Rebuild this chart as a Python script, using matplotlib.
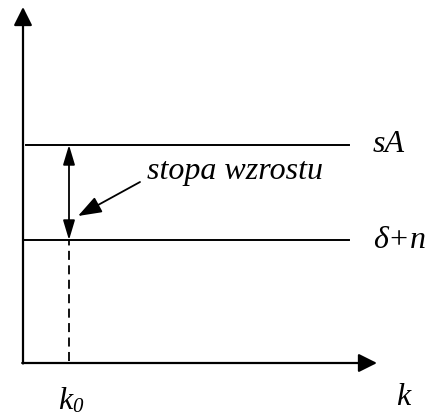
import matplotlib.pyplot as plt

# levels (distance from origin, in drawing units)
level_names = ['sA', r'$\delta$+n']
level_values = [218, 123]
level_starts = [3, 0]
k0 = 46
k_end = 354
y_end = 356
line_end = 326
note_text = 'stopa wzrostu'

plt.rcParams['font.family'] = ['Liberation Serif', 'DejaVu Serif']
plt.rcParams['mathtext.fontset'] = 'custom'
plt.rcParams['mathtext.it'] = 'Liberation Serif:italic'
plt.rcParams['mathtext.rm'] = 'Liberation Serif:italic'

fig = plt.figure(figsize=(4.31, 4.15), dpi=100)
ax = fig.add_axes([0, 0, 1, 1])
ax.set_xlim(-23, 408)
ax.set_ylim(-52, 363)
ax.axis('off')

axis_arrow = dict(arrowstyle='-|>,head_length=0.56,head_width=0.28', mutation_scale=20,
                  lw=1.6, color='black', shrinkA=0, shrinkB=0)
ax.annotate('', xy=(0, y_end), xytext=(0, -0.5), arrowprops=axis_arrow)
ax.annotate('', xy=(k_end, 0), xytext=(-0.8, 0), arrowprops=axis_arrow)

# horizontal levels
for name, v, x0 in zip(level_names, level_values, level_starts):
    ax.plot([x0, line_end], [v, v], color='black', lw=1.4)
    ax.text(350, v, name, fontsize=23, style='italic', va='center', ha='left')

# double arrow between levels
ax.annotate('', xy=(k0, level_values[0]), xytext=(k0, level_values[1]),
            arrowprops=dict(arrowstyle='<|-|>,head_length=0.6,head_width=0.18', mutation_scale=20,
                            lw=1.3, color='black', shrinkA=0, shrinkB=0))

# dashed drop to k0
ax.plot([k0, k0], [2, level_values[1]], color='black', lw=1.3, ls=(0, (5, 3)))

# annotation
ax.annotate('', xy=(55, 147), xytext=(117, 181),
            arrowprops=dict(arrowstyle='-|>,head_length=0.72,head_width=0.26', mutation_scale=20,
                            lw=1.3, color='black', shrinkA=0, shrinkB=0))
ax.text(124, 192, note_text, fontsize=23, style='italic', va='center', ha='left')

ax.text(35, -38, 'k', fontsize=23, style='italic', va='center', ha='left')
ax.text(49, -44, '0', fontsize=15, style='italic', va='center', ha='left')
ax.text(373, -34, 'k', fontsize=23, style='italic', va='center', ha='left')

fig.savefig('out.png', dpi=100)
